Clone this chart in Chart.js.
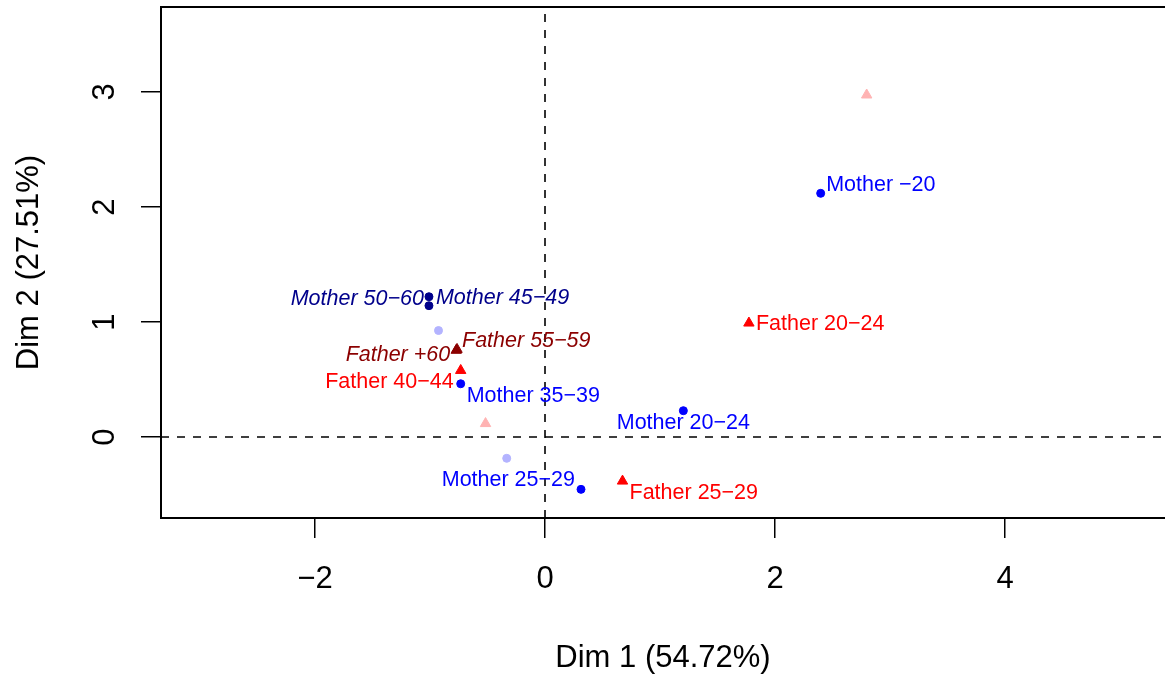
<!DOCTYPE html>
<html>
<head>
<meta charset="utf-8">
<script src="https://cdn.jsdelivr.net/npm/chart.js@4.4.0/dist/chart.umd.min.js"></script>
<style>
  html, body { margin: 0; padding: 0; background: #fff; }
  canvas { display: block; }
</style>
</head>
<body>
<canvas id="ca" width="1165" height="675"></canvas>
<script>
// plot window (Dim 1 / Dim 2 coordinates)
var xMin = -3.339, xMax = 5.391;
var yMin = -0.704, yMax = 3.739;
var xTicks = [-2, 0, 2, 4];
var yTicks = [0, 1, 2, 3];

// active rows (mothers)
var motherNames = ['Mother \u221220', 'Mother 20\u221224', 'Mother 25\u221229', 'Mother 35\u221239'];
var motherX = [2.397, 1.203, 0.313, -0.733];
var motherY = [2.119, 0.229, -0.455, 0.463];
// rows drawn faded, no label
var motherFadedX = [-0.926, -0.333];
var motherFadedY = [0.926, -0.185];
// supplementary rows
var motherSupNames = ['Mother 50\u221260', 'Mother 45\u221249'];
var motherSupX = [-1.009, -1.009];
var motherSupY = [1.220, 1.142];

// active columns (fathers)
var fatherNames = ['Father 20\u221224', 'Father 25\u221229', 'Father 40\u221244'];
var fatherX = [1.773, 0.674, -0.733];
var fatherY = [0.991, -0.383, 0.579];
// columns drawn faded, no label
var fatherFadedX = [2.797, -0.517];
var fatherFadedY = [2.974, 0.117];
// supplementary columns
var fatherSupNames = ['Father +60', 'Father 55\u221259'];
var fatherSupX = [-0.772, -0.765];
var fatherSupY = [0.754, 0.762];

// label placement next to each point: [dx px, dy px, align]
var labelPlace = {
  'Mother \u221220':   [5.5, -8.5, 'left'],
  'Mother 20\u221224': [0, 12, 'center'],
  'Mother 25\u221229': [-6, -9.5, 'right'],
  'Mother 35\u221239': [6, 12, 'left'],
  'Mother 50\u221260': [-5, 2.5, 'right'],
  'Mother 45\u221249': [7, -7.5, 'left'],
  'Father 20\u221224': [7, 1.5, 'left'],
  'Father 25\u221229': [7, 12, 'left'],
  'Father 40\u221244': [-7, 12, 'right'],
  'Father +60':        [-6, 4.5, 'right'],
  'Father 55\u221259': [5, -8.5, 'left']
};

var FONT = "'Liberation Sans', Arial, Helvetica, sans-serif";

function pts(xs, ys) {
  return xs.map(function (x, i) { return { x: x, y: ys[i] }; });
}
function fmt(v) {
  return v < 0 ? '\u2212' + Math.abs(v) : String(v);
}

function marks(data, style, radius, color, names, italic) {
  return {
    data: data,
    pointStyle: style,
    pointRadius: radius,
    pointBackgroundColor: color,
    pointBorderColor: color,
    pointBorderWidth: 1,
    names: names,
    italic: italic
  };
}

var labelPlugin = {
  id: 'caLabels',
  afterDatasetsDraw: function (chart) {
    var ctx = chart.ctx;
    chart.data.datasets.forEach(function (ds, di) {
      if (!ds.names) return;
      var meta = chart.getDatasetMeta(di);
      ctx.save();
      ctx.font = (ds.italic ? 'italic ' : '') + '21.5px ' + FONT;
      ctx.fillStyle = ds.pointBackgroundColor;
      ctx.textBaseline = 'middle';
      meta.data.forEach(function (el, i) {
        var p = labelPlace[ds.names[i]];
        ctx.textAlign = p[2];
        ctx.fillText(ds.names[i], el.x + p[0], el.y + p[1]);
      });
      ctx.restore();
    });
  }
};

var framePlugin = {
  id: 'frame',
  afterDraw: function (chart) {
    var a = chart.chartArea, ctx = chart.ctx, ys = chart.scales.y;
    ctx.save();
    ctx.strokeStyle = '#000';
    ctx.lineWidth = 2;
    ctx.beginPath();
    ctx.moveTo(a.left - 1, a.top);
    ctx.lineTo(a.right, a.top);
    ctx.stroke();
    // R style vertical tick labels on the y axis
    ctx.font = '31px ' + FONT;
    ctx.fillStyle = '#000';
    ctx.textAlign = 'center';
    ctx.textBaseline = 'middle';
    ys.ticks.forEach(function (t) {
      var py = ys.getPixelForValue(t.value);
      ctx.save();
      ctx.translate(105, py);
      ctx.rotate(-Math.PI / 2);
      ctx.fillText(fmt(t.value), 0, 0);
      ctx.restore();
    });
    ctx.restore();
  }
};

var dashed = { showLine: true, borderColor: '#000', borderWidth: 1.6, borderDash: [8, 8], pointRadius: 0 };

var chart = new Chart(document.getElementById('ca').getContext('2d'), {
  type: 'scatter',
  data: {
    datasets: [
      Object.assign({ data: [{ x: xMin, y: 0 }, { x: xMax, y: 0 }] }, dashed),
      Object.assign({ data: [{ x: 0, y: yMin }, { x: 0, y: yMax }] }, dashed),
      marks(pts(motherFadedX, motherFadedY), 'circle', 4, '#B3B3FF'),
      marks(pts(fatherFadedX, fatherFadedY), 'triangle', 6, '#FFB3B3'),
      marks(pts(motherX, motherY), 'circle', 4, '#0000FF', motherNames, false),
      marks(pts(motherSupX, motherSupY), 'circle', 4, '#00008B', motherSupNames, true),
      marks(pts(fatherX, fatherY), 'triangle', 6, '#FF0000', fatherNames, false),
      marks(pts(fatherSupX, fatherSupY), 'triangle', 6, '#8B0000', fatherSupNames, true)
    ]
  },
  options: {
    responsive: false,
    animation: false,
    events: [],
    layout: { autoPadding: false, padding: { top: 7, right: 0, bottom: 0, left: 0 } },
    plugins: { legend: { display: false }, tooltip: { enabled: false } },
    scales: {
      x: {
        type: 'linear',
        min: xMin,
        max: xMax,
        afterBuildTicks: function (s) { s.ticks = xTicks.map(function (v) { return { value: v }; }); },
        afterFit: function (s) { s.height = 157; s.paddingLeft = 0; s.paddingRight = 0; },
        grid: { drawOnChartArea: false, drawTicks: true, tickLength: 20, color: '#000', lineWidth: 1.5 },
        border: { display: true, color: '#000', width: 2 },
        ticks: {
          color: '#000',
          font: { family: FONT, size: 31 },
          padding: 23,
          maxRotation: 0,
          callback: function (v) { return fmt(v); }
        },
        title: {
          display: true,
          text: 'Dim 1 (54.72%)',
          color: '#000',
          font: { family: FONT, size: 31 },
          padding: { top: 0, bottom: -2 }
        }
      },
      y: {
        type: 'linear',
        min: yMin,
        max: yMax,
        afterBuildTicks: function (s) { s.ticks = yTicks.map(function (v) { return { value: v }; }); },
        afterFit: function (s) { s.width = 161; s.paddingTop = 0; s.paddingBottom = 0; },
        grid: { drawOnChartArea: false, drawTicks: true, tickLength: 20, color: '#000', lineWidth: 1.5 },
        border: { display: true, color: '#000', width: 2 },
        ticks: { display: false },
        title: {
          display: true,
          text: 'Dim 2 (27.51%)',
          color: '#000',
          font: { family: FONT, size: 31 },
          padding: { top: 11, bottom: 0 }
        }
      }
    }
  },
  plugins: [labelPlugin, framePlugin]
});
</script>
</body>
</html>
